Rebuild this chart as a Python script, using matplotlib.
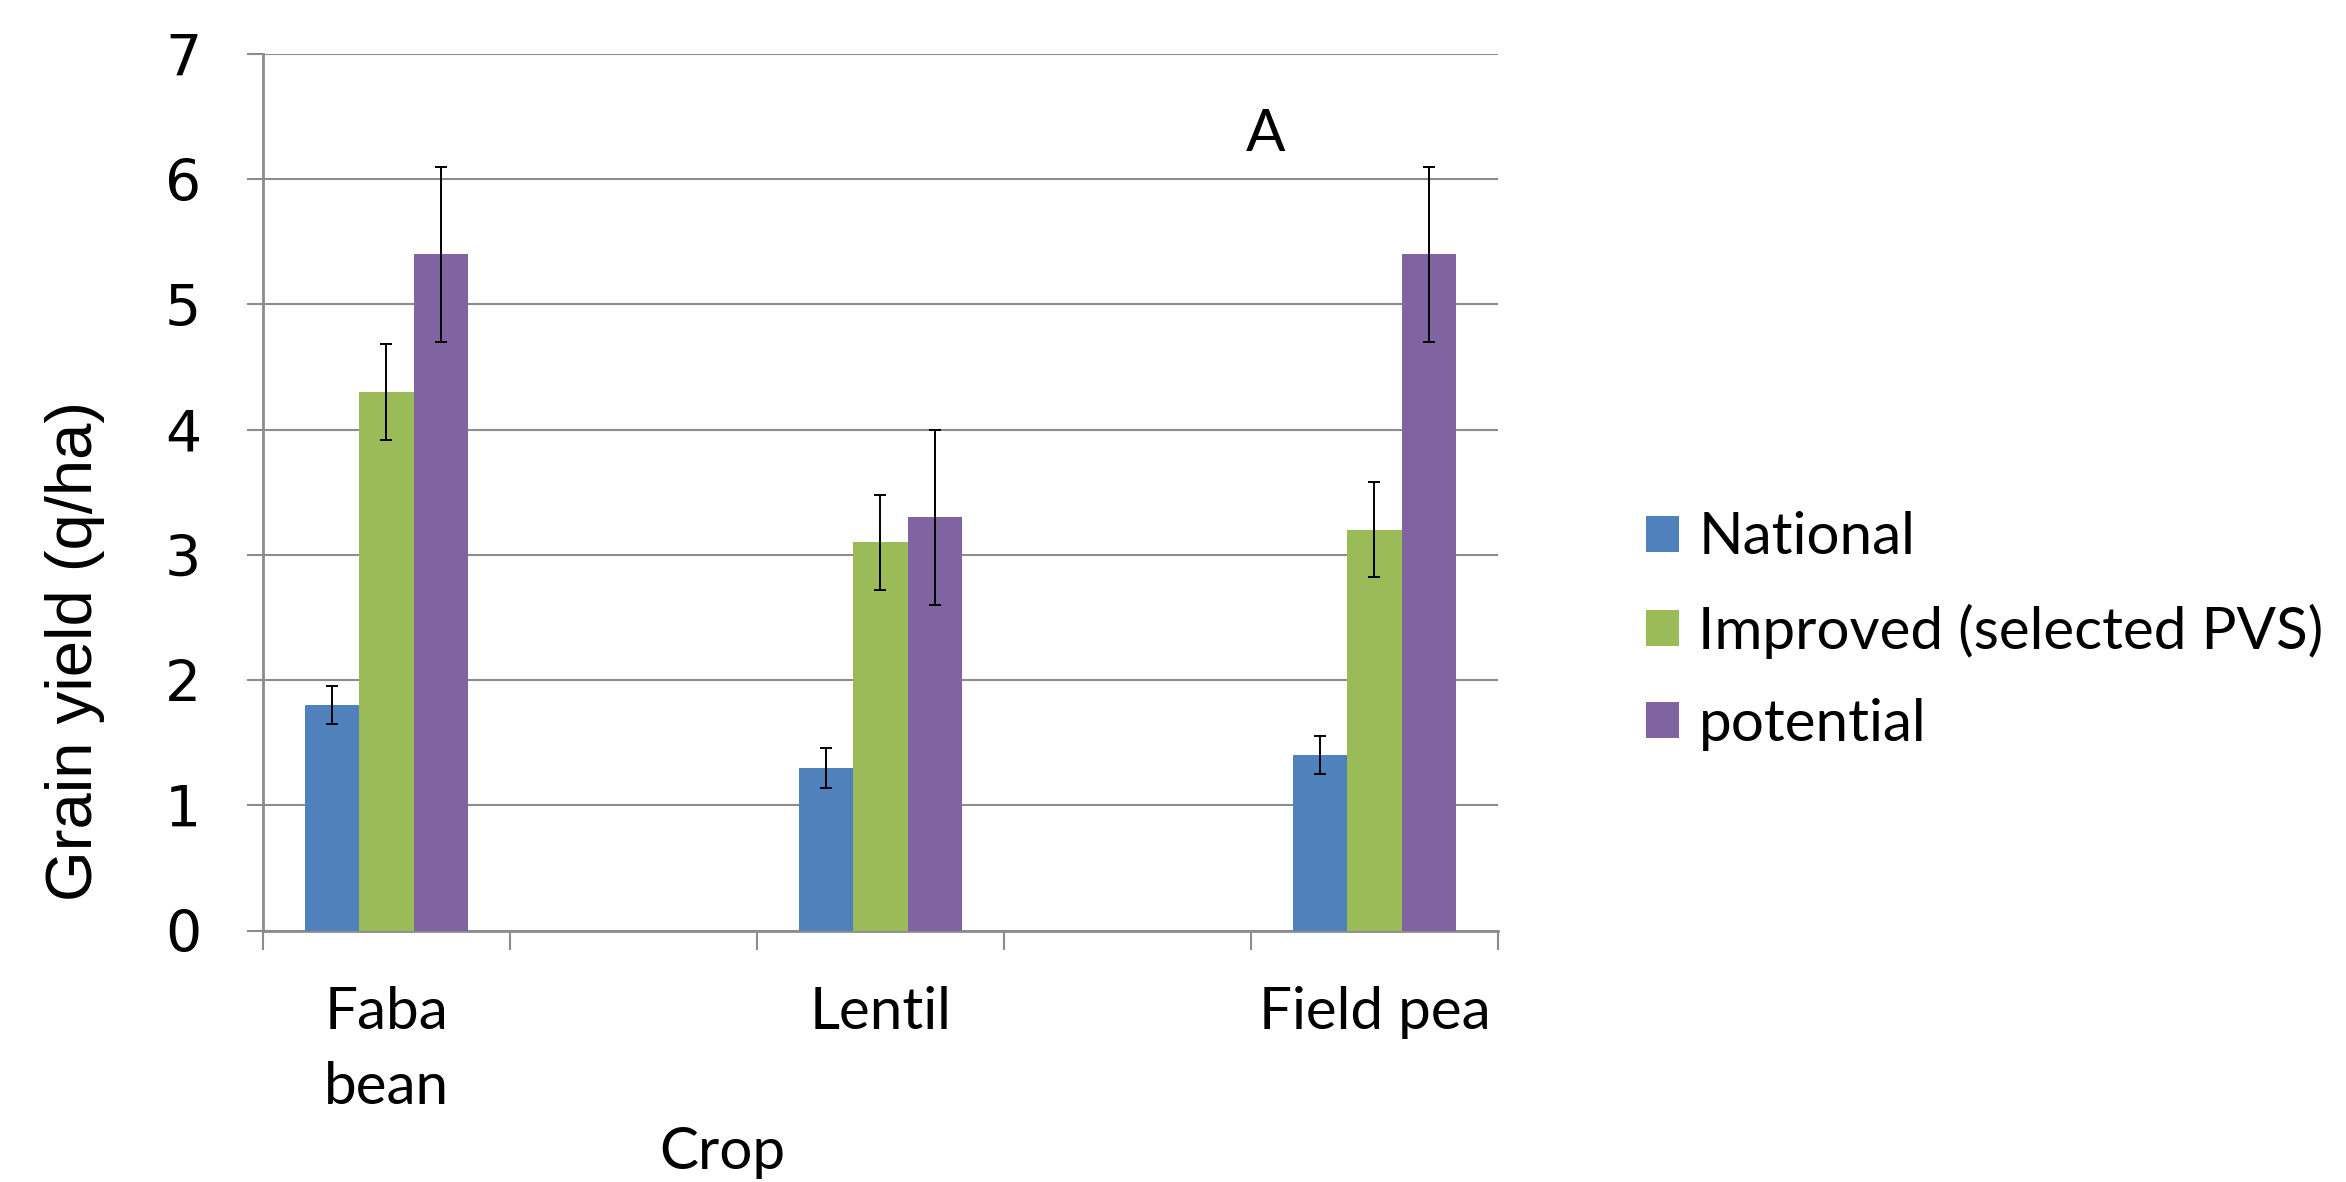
import matplotlib
matplotlib.use("Agg")
import matplotlib.pyplot as plt
import numpy as np

# crop slots (empty ones keep the gaps between the groups)
crops = ["Faba\nbean", "", "Lentil", "", "Field pea"]
series = ["National", "Improved (selected PVS)", "potential"]

national = [1.8, np.nan, 1.3, np.nan, 1.4]
improved = [4.3, np.nan, 3.1, np.nan, 3.2]
potential = [5.4, np.nan, 3.3, np.nan, 5.4]

national_err = [0.15, 0, 0.16, 0, 0.15]
improved_err = [0.38, 0, 0.38, 0, 0.38]
potential_err = [0.7, 0, 0.7, 0, 0.7]

colors = ["#4F81BD", "#9BBB59", "#8064A2"]
txt_font = ["Lato", "DejaVu Sans"]

fig = plt.figure(figsize=(23.46, 11.82), dpi=100)
ax = fig.add_axes([0.1121, 0.2127, 0.5264, 0.7417])

x = np.arange(len(crops)) + 0.5
w = 0.22
vals = [national, improved, potential]
errs = [national_err, improved_err, potential_err]
for i in range(3):
    ax.bar(x + (i - 1) * w, vals[i], w, color=colors[i], label=series[i],
           zorder=3)
    ax.errorbar(x + (i - 1) * w, vals[i], yerr=errs[i], fmt="none",
                ecolor="black", elinewidth=1.4, capsize=4.5, capthick=1.4,
                zorder=4)

ax.set_xlim(0, len(crops))
ax.set_ylim(0, 7)
ax.set_yticks(range(8))
ax.yaxis.grid(True, color="#8c8c8c", linewidth=1.5, zorder=0)
ax.set_xticks(range(len(crops) + 1))
ax.set_xticklabels([])
ax.set_xticks(x, minor=True)
ax.set_xticklabels(crops, minor=True, fontsize=42, family=txt_font,
                   linespacing=1.5, va="top")
ax.tick_params(axis="x", which="minor", length=0, pad=40)
ax.tick_params(axis="x", which="major", length=14, width=1.5, color="#8c8c8c")
ax.tick_params(axis="y", length=11.5, width=1.5, color="#8c8c8c", pad=33,
               labelsize=41)
for s in ["top", "right"]:
    ax.spines[s].set_visible(False)
for s in ["left", "bottom"]:
    ax.spines[s].set_color("#8c8c8c")
    ax.spines[s].set_linewidth(2)

ax.text(4.06, 6.36, "A", fontsize=42, family=txt_font, ha="center",
        va="center")

fig.text(0.032, 0.449, "Grain yield (q/ha)", rotation=90, fontsize=47,
         family=["Liberation Sans", "DejaVu Sans"], ha="center",
         va="center")
fig.text(0.308, 0.025, "Crop", fontsize=42, family=txt_font, ha="center",
         va="center")

leg = fig.legend(loc="center left", bbox_to_anchor=(0.7016, 0.466),
                 frameon=False, prop={"family": txt_font, "size": 42},
                 handlelength=0.57, handleheight=0.57, handletextpad=0.33,
                 labelspacing=0.67, borderpad=0, borderaxespad=0)

fig.savefig("out.png", dpi=100)
